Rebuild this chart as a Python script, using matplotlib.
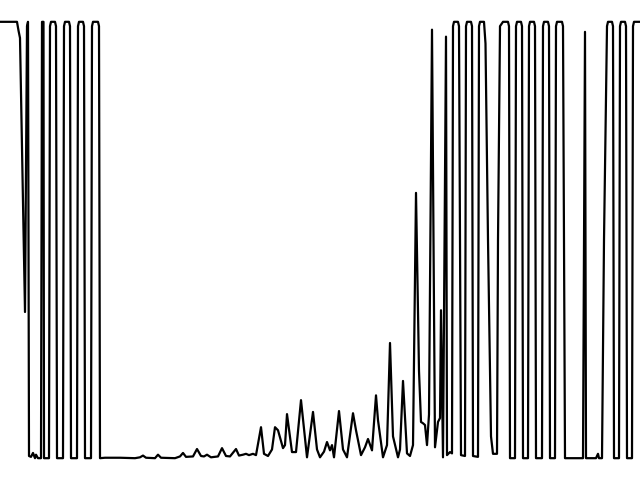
import matplotlib
matplotlib.use('Agg')
import matplotlib.pyplot as plt

# sample position (arbitrary units) and normalised signal level
t = [0, 17, 18.5, 20, 25, 27, 28, 29, 31, 33, 35, 36, 38, 41, 42, 43.5, 44,
     49, 50, 51, 55, 56, 57, 63, 64, 65, 69, 70, 71, 77, 78, 79, 83, 84, 85,
     91, 92, 93, 98, 99, 100,
     105, 120, 135, 140, 143, 146, 155, 158, 161, 175, 180, 183, 186, 193, 197,
     201, 204, 207, 211, 218, 222, 226, 230, 236, 239, 243, 246, 249, 253, 256,
     261, 264, 268, 272, 275, 278, 283, 285, 287, 292, 296, 301, 307, 313, 317,
     320, 324, 327, 330, 332, 334, 339, 343, 347, 353, 356, 361, 365, 368, 372,
     376, 378, 383, 387, 390, 393, 398, 400, 403, 407, 410, 413, 416, 419, 421,
     423, 425, 427, 429, 432, 435, 438, 440, 441, 443, 446, 447, 450, 452,
     453, 454, 458, 459, 461, 465, 466, 467, 471, 472, 473, 478, 479, 480, 484,
     485.5, 488, 491, 493, 497, 498, 500, 503, 508, 509, 510, 515, 516, 517,
     521, 522, 523, 528, 529, 530, 534, 535, 536, 542, 543, 544, 548, 549, 550,
     555, 556, 557, 562, 563, 565, 583, 585, 586, 596, 598, 599, 602, 604, 607,
     608, 612, 613, 614, 619, 620, 621, 625, 626, 627, 632, 633, 634, 640]
level = [1.0, 1.0, 0.98, 0.963, 0.335, 0.99, 1.0, 0.005, 0.003, 0.012, 0.0, 0.008, 0.0, 0.0, 1.0, 1.0, 0.0,
         0.0, 0.99, 1.0, 1.0, 0.99, 0.0, 0.0, 0.99, 1.0, 1.0, 0.99, 0.0, 0.0, 0.99, 1.0, 1.0, 0.99, 0.0,
         0.0, 0.99, 1.0, 1.0, 0.99, 0.0,
         0.001, 0.001, 0.0, 0.002, 0.006, 0.001, 0.0, 0.008, 0.001, 0.0, 0.004, 0.012, 0.003, 0.004, 0.021,
         0.005, 0.004, 0.008, 0.002, 0.004, 0.023, 0.005, 0.004, 0.021, 0.006, 0.008, 0.01, 0.007, 0.01, 0.007,
         0.071, 0.01, 0.005, 0.02, 0.071, 0.064, 0.023, 0.03, 0.101, 0.014, 0.014, 0.133, 0.002, 0.106, 0.02,
         0.002, 0.015, 0.037, 0.018, 0.03, 0.002, 0.108, 0.02, 0.002, 0.103, 0.064, 0.007, 0.025, 0.044, 0.018,
         0.144, 0.087, 0.002, 0.03, 0.264, 0.05, 0.002, 0.02, 0.177, 0.011, 0.005, 0.03, 0.608, 0.2, 0.083,
         0.08, 0.076, 0.03, 0.1, 0.982, 0.025, 0.083, 0.092, 0.339, 0.002, 0.966, 0.007, 0.014, 0.011,
         0.99, 1.0, 1.0, 0.99, 0.007, 0.005, 0.99, 1.0, 1.0, 0.99, 0.005, 0.003, 0.99, 1.0, 1.0,
         0.95, 0.5, 0.05, 0.01, 0.01, 0.5, 0.99, 1.0, 1.0, 0.99, 0.0, 0.0, 0.99, 1.0,
         1.0, 0.99, 0.0, 0.0, 0.99, 1.0, 1.0, 0.99, 0.0, 0.0, 0.99, 1.0, 1.0, 0.99, 0.0,
         0.0, 0.99, 1.0, 1.0, 0.99, 0.0, 0.0, 0.977, 0.0, 0.0, 0.01, 0.0, 0.0, 0.5, 0.99,
         1.0, 1.0, 0.99, 0.0, 0.0, 0.99, 1.0, 1.0, 0.99, 0.0, 0.0, 0.99, 1.0, 1.0]

fig = plt.figure(figsize=(6.4, 4.8), dpi=100)
ax = fig.add_axes([0, 0, 1, 1])
ax.plot(t, level, color='black', linewidth=1.6, solid_joinstyle='round')
ax.set_xlim(0, 640)
ax.margins(y=0.05)
ax.axis('off')
fig.savefig('out.png', dpi=100)
